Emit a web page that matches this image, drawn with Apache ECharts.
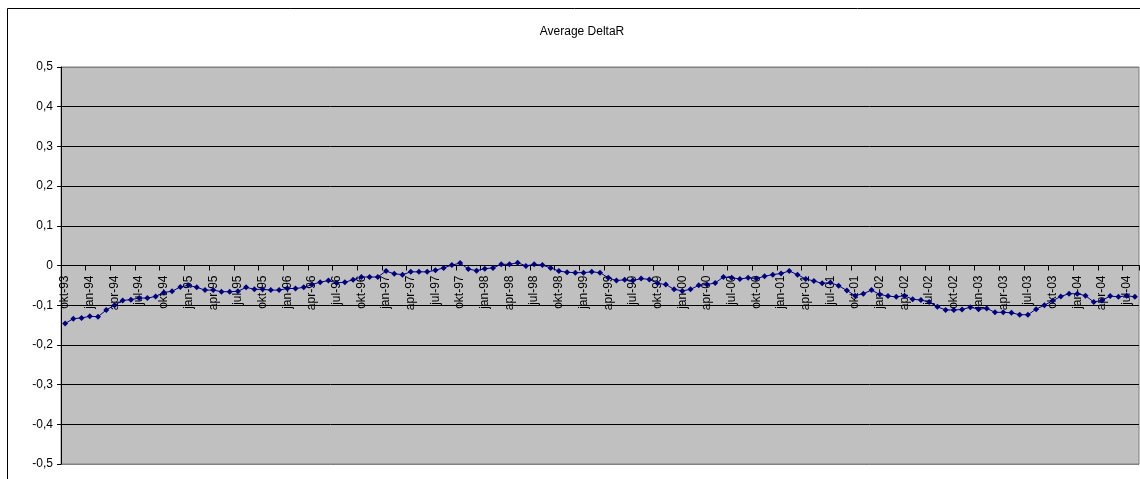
<!DOCTYPE html>
<html>
<head>
<meta charset="utf-8">
<script src="https://cdn.jsdelivr.net/npm/echarts@6/dist/echarts.min.js"></script>
<style>
  html, body { margin: 0; padding: 0; background: #ffffff; }
  #chart { width: 1140px; height: 479px; }
</style>
</head>
<body>
<div id="chart"></div>
<script>
// Monthly categories, okt-93 through aug-04
const months = [
  'okt-93','nov-93','dec-93',
  'jan-94','feb-94','mrt-94','apr-94','mei-94','jun-94','jul-94','aug-94','sep-94','okt-94','nov-94','dec-94',
  'jan-95','feb-95','mrt-95','apr-95','mei-95','jun-95','jul-95','aug-95','sep-95','okt-95','nov-95','dec-95',
  'jan-96','feb-96','mrt-96','apr-96','mei-96','jun-96','jul-96','aug-96','sep-96','okt-96','nov-96','dec-96',
  'jan-97','feb-97','mrt-97','apr-97','mei-97','jun-97','jul-97','aug-97','sep-97','okt-97','nov-97','dec-97',
  'jan-98','feb-98','mrt-98','apr-98','mei-98','jun-98','jul-98','aug-98','sep-98','okt-98','nov-98','dec-98',
  'jan-99','feb-99','mrt-99','apr-99','mei-99','jun-99','jul-99','aug-99','sep-99','okt-99','nov-99','dec-99',
  'jan-00','feb-00','mrt-00','apr-00','mei-00','jun-00','jul-00','aug-00','sep-00','okt-00','nov-00','dec-00',
  'jan-01','feb-01','mrt-01','apr-01','mei-01','jun-01','jul-01','aug-01','sep-01','okt-01','nov-01','dec-01',
  'jan-02','feb-02','mrt-02','apr-02','mei-02','jun-02','jul-02','aug-02','sep-02','okt-02','nov-02','dec-02',
  'jan-03','feb-03','mrt-03','apr-03','mei-03','jun-03','jul-03','aug-03','sep-03','okt-03','nov-03','dec-03',
  'jan-04','feb-04','mrt-04','apr-04','mei-04','jun-04','jul-04','aug-04'
];

// Average DeltaR per month
const avgDeltaR = [
  -0.146, -0.134, -0.132,
  -0.128, -0.129, -0.112, -0.100, -0.088, -0.086, -0.082, -0.082, -0.078, -0.068, -0.065, -0.054,
  -0.050, -0.055, -0.062, -0.062, -0.066, -0.066, -0.065, -0.055, -0.060, -0.060, -0.062, -0.062,
  -0.058, -0.058, -0.055, -0.048, -0.042, -0.038, -0.044, -0.042, -0.036, -0.029, -0.029, -0.029,
  -0.014, -0.021, -0.023, -0.016, -0.016, -0.016, -0.012, -0.006, 0.001, 0.006, -0.009, -0.013,
  -0.008, -0.006, 0.003, 0.003, 0.007, -0.001, 0.003, 0.001, -0.006, -0.014, -0.017, -0.018,
  -0.018, -0.016, -0.018, -0.031, -0.038, -0.036, -0.038, -0.033, -0.035, -0.045, -0.048, -0.060,
  -0.064, -0.060, -0.050, -0.048, -0.044, -0.029, -0.031, -0.034, -0.031, -0.033, -0.027, -0.023,
  -0.020, -0.014, -0.023, -0.034, -0.039, -0.045, -0.043, -0.051, -0.063, -0.076, -0.071, -0.062,
  -0.073, -0.077, -0.079, -0.076, -0.085, -0.087, -0.092, -0.104, -0.112, -0.112, -0.111, -0.105,
  -0.110, -0.108, -0.118, -0.118, -0.119, -0.124, -0.124, -0.110, -0.100, -0.089, -0.078, -0.071,
  -0.071, -0.076, -0.092, -0.088, -0.077, -0.079, -0.076, -0.079
];

// Value axis range and step
const yMin = -0.5;
const yMax = 0.5;
const yStep = 0.1;

// Plot area geometry
const plotTop = 67;
const plotHeight = 397;

const chart = echarts.init(document.getElementById('chart'), null, { renderer: 'canvas' });

const fontFamily = '"Liberation Sans", Arial, sans-serif';

// Horizontal lines: outer edges grey, inner lines black
const gridLineColors = [];
const nLines = Math.round((yMax - yMin) / yStep) + 1;
for (let i = 0; i < nLines; i++) {
  gridLineColors.push(i === 0 || i === nLines - 1 ? '#808080' : '#000000');
}

// The category axis crosses the value axis at 0: shift it up from the bottom edge
const zeroOffset = -plotHeight * (0 - yMin) / (yMax - yMin);

chart.setOption({
  animation: false,
  backgroundColor: '#ffffff',
  title: {
    text: 'Average DeltaR',
    left: 577,
    textAlign: 'center',
    top: 21,
    textStyle: { fontFamily, fontSize: 12, fontWeight: 'normal', color: '#000000' }
  },
  graphic: [{
    type: 'rect',
    shape: { x: 7.5, y: 8.5, width: 1160, height: 500 },
    style: { fill: 'none', stroke: '#000000', lineWidth: 1 },
    silent: true,
    z: 100
  }],
  grid: {
    left: 61, right: 1, top: plotTop, height: plotHeight,
    containLabel: false,
    outerBoundsMode: 'none',
    show: true,
    backgroundColor: '#c0c0c0',
    borderColor: '#808080',
    borderWidth: 1
  },
  xAxis: {
    type: 'category',
    data: months,
    boundaryGap: true,
    position: 'bottom',
    offset: zeroOffset,
    axisLine: { show: true, onZero: false, lineStyle: { color: '#000000', width: 1 } },
    axisTick: { show: true, interval: 2, length: 5, inside: false, lineStyle: { color: '#000000' } },
    axisLabel: {
      interval: 2,
      rotate: 90,
      margin: 10,
      fontFamily, fontSize: 12, color: '#000000'
    },
    splitLine: { show: false }
  },
  yAxis: {
    type: 'value',
    min: yMin, max: yMax, interval: yStep,
    axisLine: { show: true, lineStyle: { color: '#000000', width: 1 } },
    axisTick: { show: true, length: 4, lineStyle: { color: '#000000' } },
    axisLabel: {
      margin: 8,
      fontFamily, fontSize: 12, color: '#000000',
      formatter: function (v) {
        const r = Math.round(v * 10) / 10;
        if (r === 0) return '0';
        return r.toFixed(1).replace('.', ',');
      }
    },
    splitLine: { show: true, lineStyle: { color: gridLineColors, width: 1 } }
  },
  series: [{
    name: 'Average DeltaR',
    type: 'line',
    data: avgDeltaR,
    symbol: 'diamond',
    symbolSize: 6,
    showAllSymbol: true,
    lineStyle: { color: '#000080', width: 1 },
    itemStyle: { color: '#000080' }
  }]
});
</script>
</body>
</html>
